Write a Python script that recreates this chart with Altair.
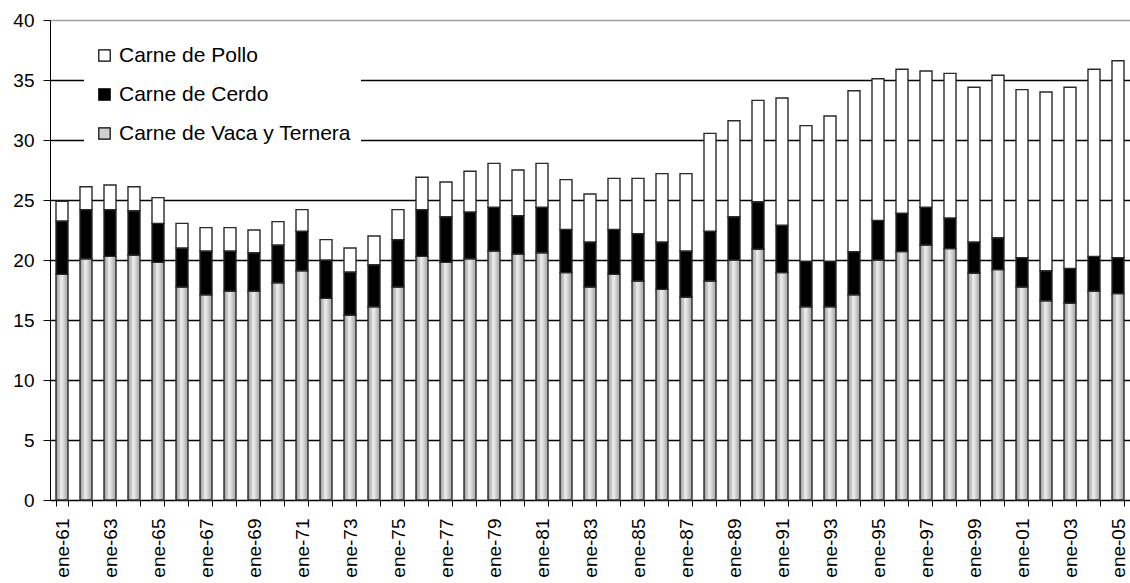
import altair as alt
import pandas as pd

years = list(range(1961, 2006))

vaca = [18.8, 20.1, 20.3, 20.4, 19.8, 17.75, 17.1, 17.4, 17.4, 18.1, 19.1, 16.8, 15.4, 16.1, 17.75,
        20.3, 19.8, 20.1, 20.75, 20.5, 20.6, 18.95, 17.75, 18.8, 18.25, 17.55, 16.9, 18.25, 20.0,
        20.9, 18.95, 16.1, 16.1, 17.1, 20.0, 20.7, 21.25, 20.95, 18.9, 19.2, 17.75, 16.6, 16.4, 17.4, 17.2]

cerdo = [4.45, 4.1, 3.9, 3.7, 3.25, 3.25, 3.65, 3.35, 3.2, 3.15, 3.3, 3.2, 3.6, 3.5, 3.95,
         3.9, 3.8, 3.9, 3.65, 3.2, 3.8, 3.6, 3.75, 3.75, 3.95, 3.95, 3.85, 4.15, 3.6,
         3.95, 3.95, 3.8, 3.8, 3.6, 3.3, 3.2, 3.15, 2.55, 2.6, 2.65, 2.45, 2.5, 2.9, 2.9, 3.0]

pollo = [1.65, 1.9, 2.05, 2.0, 2.15, 2.05, 1.95, 1.95, 1.9, 1.95, 1.8, 1.7, 2.0, 2.4, 2.5,
         2.7, 2.9, 3.4, 3.65, 3.8, 3.65, 4.15, 4.0, 4.25, 4.6, 5.7, 6.45, 8.15, 8.0,
         8.45, 10.6, 11.3, 12.1, 13.4, 11.8, 12.0, 11.35, 12.05, 12.9, 13.55, 14.0, 14.9, 15.1, 15.6, 16.4]

series_names = ["Carne de Pollo", "Carne de Cerdo", "Carne de Vaca y Ternera"]
series_colors = ["white", "black", "#d0d0d0"]
y_ticks = [0, 5, 10, 15, 20, 25, 30, 35, 40]

df = pd.DataFrame({"year": years, "vaca": vaca, "cerdo": cerdo, "pollo": pollo})

FONT = "Liberation Sans"
STROKE = "#2a2a2a"

x_enc = alt.X(
    "year:O",
    sort=None,
    scale=alt.Scale(paddingInner=0.5, paddingOuter=0.25),
    axis=alt.Axis(
        title=None,
        labelAngle=-90,
        labelExpr="datum.value % 2 == 1 ? 'ene-' + slice(toString(datum.value), 2) : ''",
        tickBand="extent",
        tickSize=6,
        tickColor="black",
        domainColor="black",
        labelPadding=12,
        labelFont=FONT,
        labelFontSize=19,
        labelColor="black",
        labelOverlap=False,
        grid=False,
    ),
)

y_scale = alt.Scale(domain=[0, 40], nice=False)

base = alt.Chart(df).transform_calculate(
    c1="datum.vaca",
    c2="datum.vaca + datum.cerdo",
    c3="datum.vaca + datum.cerdo + datum.pollo",
    serie="'" + series_names[0] + "'",
)

grad = alt.Gradient(
    gradient="linear",
    stops=[
        alt.GradientStop(color="#969696", offset=0),
        alt.GradientStop(color="#eeeeee", offset=0.45),
        alt.GradientStop(color="#a0a0a0", offset=1),
    ],
    x1=0, x2=1, y1=0, y2=0,
)

vaca_layer = base.mark_bar(fill=grad, stroke=STROKE, strokeWidth=1.4).encode(
    x=x_enc,
    y=alt.Y(
        "c1:Q",
        scale=y_scale,
        axis=alt.Axis(
            title=None,
            values=y_ticks,
            tickSize=7,
            tickColor="black",
            domainColor="black",
            labelPadding=9,
            labelFont=FONT,
            labelFontSize=19,
            labelColor="black",
            grid=True,
            gridColor={"condition": {"test": "datum.value == 40", "value": "#a0a0a0"}, "value": "black"},
            gridWidth=1.3,
        ),
    ),
)

cerdo_layer = base.mark_bar(fill="black", stroke=STROKE, strokeWidth=1.4).encode(
    x=x_enc,
    y=alt.Y("c1:Q", scale=y_scale),
    y2="c2:Q",
)

pollo_layer = base.mark_bar(stroke=STROKE, strokeWidth=1.4).encode(
    x=x_enc,
    y=alt.Y("c2:Q", scale=y_scale),
    y2="c3:Q",
    color=alt.Color(
        "serie:N",
        scale=alt.Scale(domain=series_names, range=series_colors),
        legend=alt.Legend(
            title=None,
            orient="none",
            legendX=34,
            legendY=15,
            fillColor="white",
            padding=10,
            symbolType="square",
            symbolSize=130,
            symbolStrokeColor="black",
            symbolStrokeWidth=1.2,
            labelFont=FONT,
            labelFontSize=21,
            labelColor="black",
            labelOffset=4,
            labelExpr="datum.label + '\u00a0\u00a0'",
            rowPadding=17,
            labelLimit=400,
        ),
    ),
)

chart = alt.layer(vaca_layer, cerdo_layer, pollo_layer).properties(
    width=1080,
    height=480,
    autosize=alt.AutoSizeParams(type="none"),
    padding={"left": 50, "top": 20, "right": 0, "bottom": 83},
    background="white",
).configure_view(strokeWidth=0)

chart.save("out.html", embed_options={"renderer": "svg", "actions": False})
